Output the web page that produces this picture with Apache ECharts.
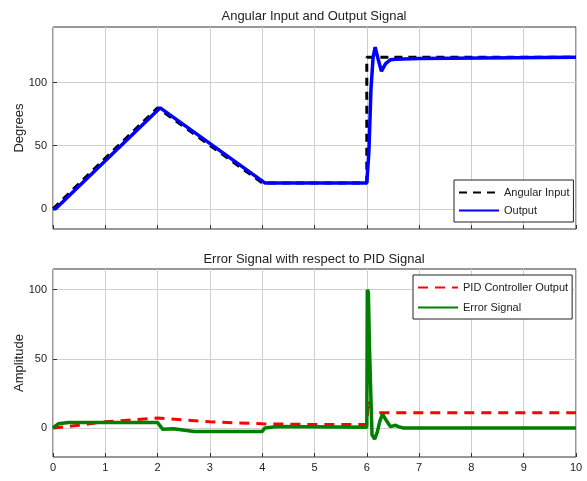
<!DOCTYPE html>
<html>
<head>
<meta charset="utf-8">
<script src="https://cdn.jsdelivr.net/npm/echarts@6/dist/echarts.min.js"></script>
<style>
  html, body { margin: 0; padding: 0; background: #fff; }
  #chart { width: 587px; height: 481px; }
</style>
</head>
<body>
<div id="chart"></div>
<script>
// ──── data ────
const inputT = [0, 2, 4, 6, 6, 10];
const inputV = [0, 80, 20.5, 20.5, 120, 120];

const outputT = [0, 0.05, 2.05, 4.05, 6.0, 6.04, 6.08, 6.12, 6.16, 6.22, 6.28, 6.36, 6.45, 6.55, 7.0, 7.02, 10];
const outputV = [0, 0, 80, 20.5, 20.5, 45, 95, 120, 128, 118, 109, 115, 118, 118.5, 119, 120, 120];

const pidT = [0, 0.5, 1, 2, 3, 4, 5, 6, 6.03, 6.1, 6.2, 10];
const pidV = [0, 2, 4.5, 7.2, 4.5, 3, 2.5, 2.5, 20, 13, 11, 11];

const errT = [0, 0.1, 0.3, 2, 2.1, 2.3, 2.7, 4, 4.05, 4.3, 6.0, 6.01, 6.03, 6.05, 6.08, 6.1, 6.15, 6.2, 6.25, 6.3, 6.38, 6.45, 6.55, 6.6, 6.7, 10];
const errV = [0, 3, 4, 4, -1, -0.5, -2.5, -2.5, 0, 1, 0.5, 100, 98, 60, 20, -5, -8, -3, 5, 10, 5, 1, 2, 1, 0, 0];

const yTicks = [0, 50, 100];

const pairs = (t, v) => t.map((x, i) => [x, v[i]]);

// ──── shared styling ────
const FONT = "'Liberation Sans', Arial, sans-serif";
const gridLine = { show: true, lineStyle: { color: '#cfcfcf', width: 1 } };

function xAxisOf(gridIndex, showLabels) {
    return {
        type: 'value', gridIndex, min: 0, max: 10, interval: 1,
        axisLine: { show: false, onZero: false },
        axisTick: { show: true, inside: true, length: 4, lineStyle: { color: '#333' } },
        axisLabel: { show: showLabels, color: '#222', fontSize: 11, fontFamily: FONT, margin: 5 },
        splitLine: gridLine,
    };
}

function yAxisOf(gridIndex, name, min, max) {
    return {
        type: 'value', gridIndex, min, max, name,
        nameLocation: 'middle', nameGap: 27, nameMoveOverlap: false,
        nameTextStyle: { color: '#222', fontSize: 13, fontFamily: FONT },
        axisLine: { show: false, onZero: false },
        axisTick: { show: true, inside: true, length: 4, customValues: yTicks, lineStyle: { color: '#333' } },
        axisLabel: { color: '#222', fontSize: 11, fontFamily: FONT, margin: 6, customValues: yTicks },
        splitLine: gridLine,
    };
}

function legendOf(data, left, top, gap) {
    return {
        data, orient: 'vertical', left, top,
        backgroundColor: '#fff', borderColor: '#222', borderWidth: 1,
        padding: [7, 4, 6, 4], itemGap: gap,
        itemWidth: 40, itemHeight: 12,
        itemStyle: { color: 'transparent', borderColor: 'transparent', borderWidth: 0 },
        textStyle: { color: '#222', fontSize: 11, fontFamily: FONT },
    };
}

const chart = echarts.init(document.getElementById('chart'), null, { renderer: 'canvas' });

chart.setOption({
    animation: false,
    backgroundColor: '#fff',
    title: [
        { text: 'Angular Input and Output Signal', left: 309, top: 5, textAlign: 'center',
          textStyle: { color: '#222', fontSize: 13, fontWeight: 'normal', fontFamily: FONT } },
        { text: 'Error Signal with respect to PID Signal', left: 309, top: 248, textAlign: 'center',
          textStyle: { color: '#222', fontSize: 13, fontWeight: 'normal', fontFamily: FONT } },
    ],
    legend: [
        legendOf(['Angular Input', 'Output'], 454, 180, 7),
        legendOf(['PID Controller Output', 'Error Signal'], 413, 275, 9),
    ],
    grid: [
        { left: 53, right: 11, top: 27, height: 202, outerBoundsMode: 'none', containLabel: false,
          show: true, borderColor: '#333', borderWidth: 1, backgroundColor: 'transparent' },
        { left: 53, right: 11, top: 269, height: 188, outerBoundsMode: 'none', containLabel: false,
          show: true, borderColor: '#333', borderWidth: 1, backgroundColor: 'transparent' },
    ],
    xAxis: [xAxisOf(0, false), xAxisOf(1, true)],
    yAxis: [yAxisOf(0, 'Degrees', -16, 144), yAxisOf(1, 'Amplitude', -21, 115)],
    series: [
        { name: 'Angular Input', type: 'line', xAxisIndex: 0, yAxisIndex: 0, symbol: 'none',
          data: pairs(inputT, inputV), z: 3,
          lineStyle: { color: '#000', width: 3, type: [8, 6] }, itemStyle: { color: '#000' } },
        { name: 'Output', type: 'line', xAxisIndex: 0, yAxisIndex: 0, symbol: 'none',
          data: pairs(outputT, outputV), z: 4,
          lineStyle: { color: '#0000ff', width: 3.5 }, itemStyle: { color: '#0000ff' } },
        { name: 'PID Controller Output', type: 'line', xAxisIndex: 1, yAxisIndex: 1, symbol: 'none',
          data: pairs(pidT, pidV), z: 3,
          lineStyle: { color: '#ff0000', width: 3, type: [10, 7] }, itemStyle: { color: '#ff0000' } },
        { name: 'Error Signal', type: 'line', xAxisIndex: 1, yAxisIndex: 1, symbol: 'none',
          data: pairs(errT, errV), z: 4,
          lineStyle: { color: '#008000', width: 3.5 }, itemStyle: { color: '#008000' } },
    ],
});
</script>
</body>
</html>
